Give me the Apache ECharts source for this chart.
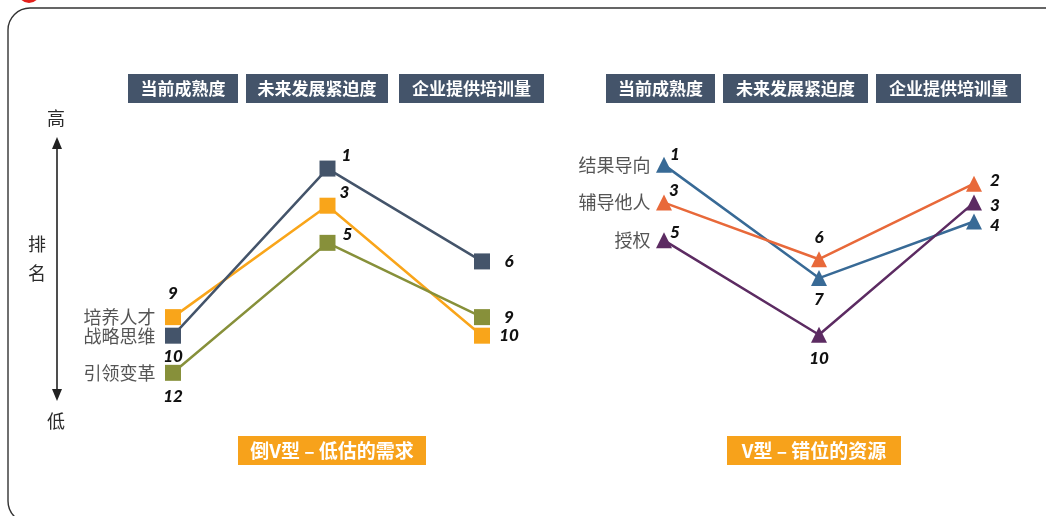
<!DOCTYPE html>
<html>
<head>
<meta charset="utf-8">
<style>
  html, body { margin: 0; padding: 0; background: #fff; }
  #chart { width: 1046px; height: 516px; }
</style>
<script src="https://cdn.jsdelivr.net/npm/echarts@6/dist/echarts.min.js"></script>
</head>
<body>
<div id="chart"></div>
<script>
// Column headers shared by both panels
const categories = ['当前成熟度', '未来发展紧迫度', '企业提供培训量'];

// Left panel: inverted V (rank, 1 = highest)
const leftNames = ['培养人才', '战略思维', '引领变革'];
const talentRanks = [9, 3, 10];
const strategyRanks = [10, 1, 6];
const changeRanks = [12, 5, 9];

// Right panel: V shape
const rightNames = ['结果导向', '辅导他人', '授权'];
const resultRanks = [1, 7, 4];
const coachRanks = [3, 6, 2];
const empowerRanks = [5, 10, 3];

const panelTitles = ['倒V型 – 低估的需求', 'V型 – 错位的资源'];
const axisWords = ['高', '排', '名', '低'];

const CJK = '"Noto Sans CJK SC", "Noto Sans", sans-serif';
const NUM = 'Lato, "Open Sans", sans-serif';
const HEAD = '#44546a';
const ORANGE_BOX = '#f7a21b';

const leftColors = ['#f9a51a', '#44546a', '#87903a'];
const rightColors = ['#386a96', '#e8693a', '#5c2b62'];

// value-label offsets for each point [dx, dy]
const leftOffsets = [
  [[0, -24], [17, -13], [27, 0]],
  [[0, 21], [19, -13], [27, 0]],
  [[0, 24], [20, -8], [27, 0]]
];
const rightOffsets = [
  [[11, -10], [0, 21], [21, 4]],
  [[10, -12], [0, -22], [21, -3]],
  [[11, -8], [0, 24], [21, 3]]
];

function lineSeries(name, values, color, symbol, size, offsets, gridIdx) {
  return {
    name: name,
    type: 'line',
    xAxisIndex: gridIdx,
    yAxisIndex: gridIdx,
    data: values.map((v, i) => ({
      value: v,
      label: {
        show: true,
        position: 'inside',
        offset: offsets[i],
        formatter: String(v),
        fontFamily: NUM,
        fontStyle: 'italic',
        fontWeight: 900,
        fontSize: 17,
        color: '#111',
        align: 'center',
        verticalAlign: 'middle'
      }
    })),
    symbol: symbol,
    symbolSize: size,
    showSymbol: true,
    lineStyle: { color: color, width: 2.5 },
    itemStyle: { color: color, borderWidth: 0 },
    animation: false,
    z: 3
  };
}

function nameSeries(name, values, gridIdx, dist) {
  return {
    type: 'scatter',
    xAxisIndex: gridIdx,
    yAxisIndex: gridIdx,
    data: [[0, values[0]]],
    symbolSize: 1,
    itemStyle: { color: 'rgba(0,0,0,0)' },
    label: {
      show: true,
      position: 'left',
      distance: dist,
      formatter: name,
      fontFamily: CJK,
      fontSize: 18,
      color: '#2b2b2b'
    },
    silent: true,
    animation: false
  };
}

function headerBoxes(boxes) {
  return boxes.map((b, i) => ({
    type: 'group',
    children: [
      { type: 'rect', shape: { x: b[0], y: 74, width: b[1] - b[0], height: 29 }, style: { fill: HEAD } },
      {
        type: 'text', x: (b[0] + b[1]) / 2, y: 88.5,
        style: {
          text: categories[i], fill: '#fff', font: 'bold 17px ' + CJK,
          align: 'center', verticalAlign: 'middle'
        }
      }
    ]
  }));
}

function footerBox(x0, x1, text) {
  return {
    type: 'group',
    children: [
      { type: 'rect', shape: { x: x0, y: 436, width: x1 - x0, height: 29 }, style: { fill: ORANGE_BOX } },
      {
        type: 'text', x: (x0 + x1) / 2, y: 451,
        style: { text: text, fill: '#fff', font: 'bold 19px ' + CJK, align: 'center', verticalAlign: 'middle' }
      }
    ]
  };
}

const hiddenY = (min, max) => ({
  type: 'value', inverse: true, min: min, max: max,
  axisLine: { show: false }, axisTick: { show: false },
  axisLabel: { show: false }, splitLine: { show: false }
});
const hiddenX = (idx) => ({
  type: 'category', gridIndex: idx, data: categories, boundaryGap: false,
  axisLine: { show: false }, axisTick: { show: false },
  axisLabel: { show: false }, splitLine: { show: false }
});

const chart = echarts.init(document.getElementById('chart'), null, { renderer: 'canvas' });

const option = {
  backgroundColor: '#fff',
  animation: false,
  grid: [
    { left: 173, right: 564, top: 150, height: 241.4 },
    { left: 664, right: 72, top: 146, height: 207.6 }
  ],
  xAxis: [hiddenX(0), hiddenX(1)],
  yAxis: [
    Object.assign(hiddenY(0, 13), { gridIndex: 0 }),
    Object.assign(hiddenY(0, 11), { gridIndex: 1 })
  ],
  series: [
    lineSeries(leftNames[0], talentRanks, leftColors[0], 'rect', 16, leftOffsets[0], 0),
    lineSeries(leftNames[1], strategyRanks, leftColors[1], 'rect', 16, leftOffsets[1], 0),
    lineSeries(leftNames[2], changeRanks, leftColors[2], 'rect', 16, leftOffsets[2], 0),
    lineSeries(rightNames[0], resultRanks, rightColors[0], 'triangle', 16, rightOffsets[0], 1),
    lineSeries(rightNames[1], coachRanks, rightColors[1], 'triangle', 16, rightOffsets[1], 1),
    lineSeries(rightNames[2], empowerRanks, rightColors[2], 'triangle', 16, rightOffsets[2], 1),
    nameSeries(leftNames[0], talentRanks, 0, 17),
    nameSeries(leftNames[1], strategyRanks, 0, 17),
    nameSeries(leftNames[2], changeRanks, 0, 17),
    nameSeries(rightNames[0], resultRanks, 1, 13),
    nameSeries(rightNames[1], coachRanks, 1, 13),
    nameSeries(rightNames[2], empowerRanks, 1, 13)
  ],
  graphic: [
    // rounded frame and corner dot
    { type: 'rect', shape: { x: 8, y: 8, width: 1062, height: 515, r: 22 },
      style: { fill: null, stroke: '#333', lineWidth: 1.4 }, z: 1 },
    { type: 'circle', shape: { cx: 29, cy: -8, r: 11 }, style: { fill: '#e3201b' } },
    // rank arrow
    { type: 'line', shape: { x1: 57, y1: 146, x2: 57, y2: 392 }, style: { stroke: '#222', lineWidth: 1.6 } },
    { type: 'polygon', shape: { points: [[57, 137], [52, 149], [62, 149]] }, style: { fill: '#222' } },
    { type: 'polygon', shape: { points: [[57, 401], [52, 389], [62, 389]] }, style: { fill: '#222' } },
    { type: 'text', x: 56, y: 118, style: { text: axisWords[0], font: '18px ' + CJK, fill: '#2b2b2b', align: 'center', verticalAlign: 'middle' } },
    { type: 'text', x: 37, y: 244, style: { text: axisWords[1], font: '18px ' + CJK, fill: '#2b2b2b', align: 'center', verticalAlign: 'middle' } },
    { type: 'text', x: 37, y: 273, style: { text: axisWords[2], font: '18px ' + CJK, fill: '#2b2b2b', align: 'center', verticalAlign: 'middle' } },
    { type: 'text', x: 56, y: 421, style: { text: axisWords[3], font: '18px ' + CJK, fill: '#2b2b2b', align: 'center', verticalAlign: 'middle' } }
  ]
    .concat(headerBoxes([[128, 238], [246, 388], [399, 544]]))
    .concat(headerBoxes([[606, 715], [723, 868], [876, 1021]]))
    .concat([footerBox(238, 426, panelTitles[0]), footerBox(727, 901, panelTitles[1])])
};

chart.setOption(option);
</script>
</body>
</html>
